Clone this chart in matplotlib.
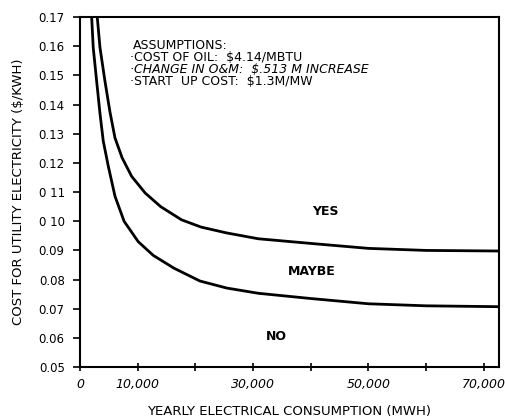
import numpy as np
import matplotlib
matplotlib.use("Agg")
import matplotlib.pyplot as plt

# break-even curves: cost of utility electricity vs yearly consumption
yes_x = [3000, 3470, 4330, 5200, 6070, 7300, 8960, 11300, 14000, 17600,
         21000, 25420, 30900, 40000, 50000, 60000, 72500]
yes_y = [0.170, 0.1596, 0.1481, 0.1375, 0.1286, 0.1218, 0.1154, 0.1097, 0.1050,
         0.1005, 0.0980, 0.0960, 0.0940, 0.0924, 0.0907, 0.0900, 0.0898]

no_x = [2030, 2300, 2890, 3470, 4040, 4900, 6070, 7650, 10100, 12700,
        16300, 20800, 25420, 30900, 40000, 50000, 60000, 72500]
no_y = [0.170, 0.1596, 0.1481, 0.1370, 0.1275, 0.1190, 0.1086, 0.1000, 0.0930,
        0.0883, 0.0839, 0.0795, 0.0771, 0.0753, 0.0735, 0.0717, 0.0710, 0.0707]

yticks = [0.05, 0.06, 0.07, 0.08, 0.09, 0.10, 0.11, 0.12, 0.13, 0.14, 0.15, 0.16, 0.17]
ytick_labels = ["0.05", "0.06", "0.07", "0.08", "0.09", "0 10", "0 11",
                "0.12", "0.13", "0.14", "0.15", "0.16", "0.17"]
xticks = [0, 10000, 30000, 50000, 70000]
xtick_labels = ["0", "10,000", "30,000", "50,000", "70,000"]
xminor = [20000, 40000, 60000]

regions = ["YES", "MAYBE", "NO"]
region_pos = [(40200, 0.1033), (36050, 0.0827), (32240, 0.0606)]

assumptions = [
    ("ASSUMPTIONS:", "normal"),
    ("\u00b7COST OF OIL:  $4.14/MBTU", "normal"),
    ("\u00b7CHANGE IN O&M:  $.513 M INCREASE", "italic"),
    ("\u00b7START  UP COST:  $1.3M/MW", "normal"),
]

fig = plt.figure(figsize=(5.06, 4.19), dpi=100)
ax = fig.add_axes([0.158, 0.124, 0.828, 0.835])

ax.plot(yes_x, yes_y, color="black", lw=2.0, solid_joinstyle="round")
ax.plot(no_x, no_y, color="black", lw=2.0, solid_joinstyle="round")

ax.set_xlim(0, 72600)
ax.set_ylim(0.05, 0.17)
ax.set_yticks(yticks)
ax.set_yticklabels(ytick_labels, fontsize=8.5)
ax.set_xticks(xticks)
ax.set_xticklabels(xtick_labels, fontsize=9, style="italic")
ax.set_xticks(xminor, minor=True)
ax.tick_params(axis="y", direction="out", length=5, width=1.2, pad=6)
ax.tick_params(axis="x", which="both", direction="inout", length=6, width=1.2, pad=5)

for s in ax.spines.values():
    s.set_linewidth(1.5)

ax.set_xlabel("YEARLY ELECTRICAL CONSUMPTION (MWH)", fontsize=9.5, labelpad=10)
ax.set_ylabel("COST FOR UTILITY ELECTRICITY ($/KWH)", fontsize=9.5, labelpad=10)

for name, (px, py) in zip(regions, region_pos):
    ax.text(px, py, name, fontsize=9, fontweight="bold", ha="left", va="center")

line_y = [0.1604, 0.1562, 0.1521, 0.1480]
for (txt, st), ly in zip(assumptions, line_y):
    x0 = 9190 if txt.startswith("A") else 8670
    ax.text(x0, ly, txt, fontsize=9, va="center", style=st)

fig.savefig("out.png", dpi=100)
